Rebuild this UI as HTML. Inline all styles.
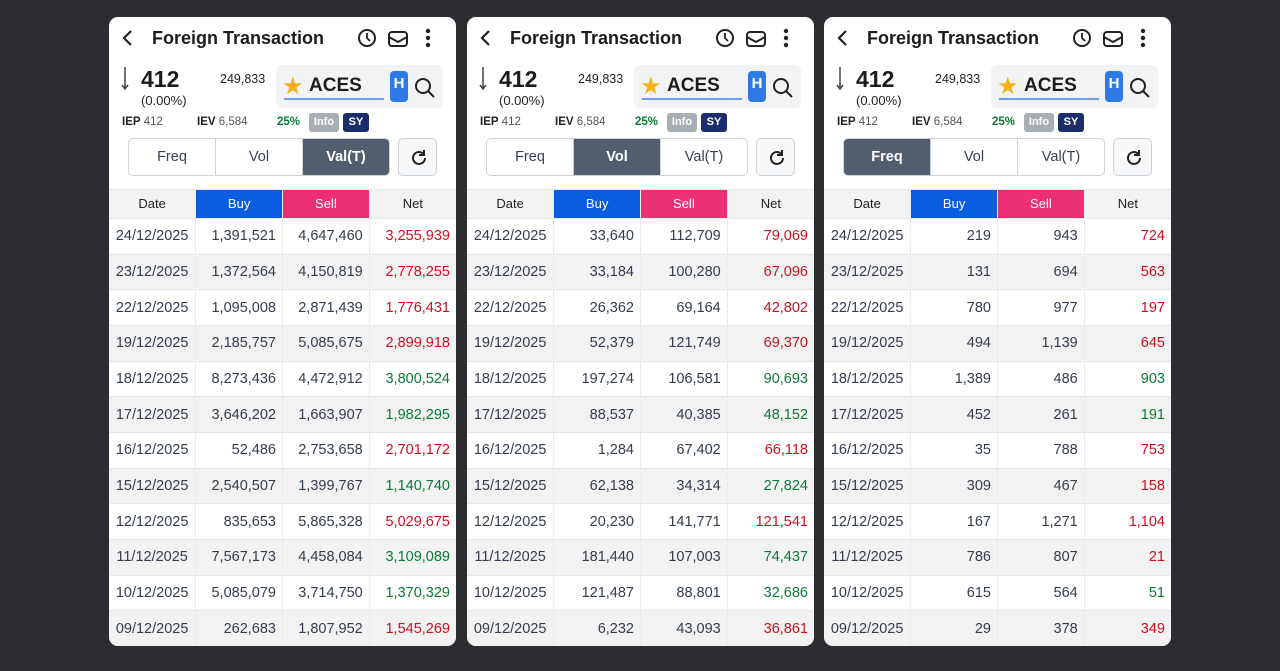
<!DOCTYPE html>
<html><head><meta charset="utf-8">
<style>
*{margin:0;padding:0;box-sizing:border-box}
body{width:1280px;height:671px;background:#2c2d30;position:relative;overflow:hidden;font-family:"Liberation Sans",Arial,sans-serif;color:#222}
.p{position:absolute;top:17px;width:347px;height:629px;background:#fff;border-radius:9px;overflow:hidden}
.a{position:absolute;white-space:nowrap}
.title{left:43px;top:11px;font-size:18px;font-weight:bold;color:#1c1c1c}
.big{left:32px;top:49px;font-size:23px;font-weight:bold;color:#1c1c1c}
.pct{left:32px;top:76px;font-size:13px;color:#222}
.vol{left:111px;top:55px;font-size:12.5px;color:#222}
.sbox{left:167px;top:48px;width:167px;height:43px;background:#f2f3f5;border-radius:6px}
.aces{left:200px;top:58px;font-size:19px;font-weight:bold;color:#1c1c1c}
.ul{left:175px;top:81px;width:100px;height:1.5px;background:#6d9ee8}
.hb{left:281px;top:54px;width:18px;height:31px;background:#2f7ae5;border-radius:4px;color:#fff;font-size:15px;font-weight:bold;text-align:center;line-height:26px}
.iep{top:99px;font-size:11.5px;color:#555}
.iep b{color:#222}
.btn{top:96px;height:19px;border-radius:3px;font-size:11px;color:#fff;text-align:center;line-height:19px;font-weight:bold}
.seg{left:19px;top:121px;width:262px;height:38px;border:1px solid #cfd3d8;border-radius:5px;overflow:hidden;display:flex}
.seg div{flex:1;text-align:center;line-height:36px;font-size:14.5px;color:#374151;border-left:1px solid #cfd3d8}
.seg div:first-child{border-left:none}
.seg .on{background:#525d6d;color:#fff;font-weight:bold}
.ref{left:289px;top:121px;width:39px;height:38px;border:1px solid #cfd3d8;border-radius:5px;background:#f7f8f9}
table{position:absolute;left:0;top:172px;width:347px;border-collapse:collapse;table-layout:fixed}
td,th{font-size:14.5px;line-height:20px;height:35.67px;border-left:1px solid #ebebeb;color:#333d4b;text-align:right;padding:0 6px 0 0;font-weight:normal;vertical-align:middle}
td:first-child,th:first-child{border-left:none;text-align:center;padding-right:0}
th{height:29px;background:#f3f3f3;text-align:center;padding:0;font-size:13px;color:#222}
th.b{background:#0b5de0;color:#fff}th.s{background:#eb3075;color:#fff}
tr:nth-child(odd) td{background:#f2f2f2}
tr{border-top:1px solid #e6e6e6}
.r{color:#cc1020!important}.g{color:#0a7a35!important}
.star{left:173px;top:55px;font-size:24px;color:#f5b01a}
</style></head><body>

<div class="p" style="left:109px">
<svg class="a" style="left:12px;top:12px" width="14" height="18"><path d="M10 2 L3 9 L10 16" stroke="#222" stroke-width="2.2" fill="none"/></svg>
<div class="a title">Foreign Transaction</div>
<svg class="a" style="left:246px;top:10px" width="24" height="22"><circle cx="12" cy="11" r="8" stroke="#222" stroke-width="2" fill="none"/><path d="M12 6v5l3 3" stroke="#222" stroke-width="1.8" fill="none"/></svg>
<svg class="a" style="left:278px;top:11px" width="22" height="20"><rect x="2" y="4" width="18" height="14" rx="3" stroke="#222" stroke-width="2" fill="none"/><path d="M2 9l9 5 9-5" stroke="#222" stroke-width="2" fill="none"/></svg>
<svg class="a" style="left:315px;top:11px" width="8" height="20"><circle cx="4" cy="3" r="2.2" fill="#222"/><circle cx="4" cy="10" r="2.2" fill="#222"/><circle cx="4" cy="17" r="2.2" fill="#222"/></svg>
<svg class="a" style="left:12px;top:50px" width="8" height="24"><path d="M4 0v22M1 18l3 4 3-4" stroke="#444" stroke-width="1.5" fill="none"/></svg>
<div class="a big">412</div><div class="a pct">(0.00%)</div><div class="a vol">249,833</div>
<div class="a sbox"></div>
<div class="a star">★</div>
<div class="a aces">ACES</div><div class="a ul"></div>
<div class="a hb">H</div>
<svg class="a" style="left:305px;top:60px" width="22" height="22"><circle cx="9" cy="9" r="7" stroke="#222" stroke-width="2" fill="none"/><path d="M14 14l6 6" stroke="#222" stroke-width="2"/></svg>
<div class="a iep" style="left:13px"><b>IEP</b> 412</div>
<div class="a iep" style="left:88px"><b>IEV</b> 6,584</div>
<div class="a iep" style="left:168px;color:#0a7a35;font-weight:bold">25%</div>
<div class="a btn" style="left:200px;width:30px;background:#a9aeb4">Info</div>
<div class="a btn" style="left:234px;width:26px;background:#1c2d6b">SY</div>
<div class="a seg"><div>Freq</div><div>Vol</div><div class="on">Val(T)</div></div>
<div class="a ref"><svg style="position:absolute;left:10px;top:9px" width="20" height="20"><path d="M16 10a6 6 0 1 1-2-4.5" stroke="#222" stroke-width="2" fill="none"/><path d="M15 2v5h-5" stroke="#222" stroke-width="2" fill="none"/></svg></div>
<table>
<tr><th>Date</th><th class="b">Buy</th><th class="s">Sell</th><th>Net</th></tr>
<tr><td>24/12/2025</td><td>1,391,521</td><td>4,647,460</td><td class="r">3,255,939</td></tr>
<tr><td>23/12/2025</td><td>1,372,564</td><td>4,150,819</td><td class="r">2,778,255</td></tr>
<tr><td>22/12/2025</td><td>1,095,008</td><td>2,871,439</td><td class="r">1,776,431</td></tr>
<tr><td>19/12/2025</td><td>2,185,757</td><td>5,085,675</td><td class="r">2,899,918</td></tr>
<tr><td>18/12/2025</td><td>8,273,436</td><td>4,472,912</td><td class="g">3,800,524</td></tr>
<tr><td>17/12/2025</td><td>3,646,202</td><td>1,663,907</td><td class="g">1,982,295</td></tr>
<tr><td>16/12/2025</td><td>52,486</td><td>2,753,658</td><td class="r">2,701,172</td></tr>
<tr><td>15/12/2025</td><td>2,540,507</td><td>1,399,767</td><td class="g">1,140,740</td></tr>
<tr><td>12/12/2025</td><td>835,653</td><td>5,865,328</td><td class="r">5,029,675</td></tr>
<tr><td>11/12/2025</td><td>7,567,173</td><td>4,458,084</td><td class="g">3,109,089</td></tr>
<tr><td>10/12/2025</td><td>5,085,079</td><td>3,714,750</td><td class="g">1,370,329</td></tr>
<tr><td>09/12/2025</td><td>262,683</td><td>1,807,952</td><td class="r">1,545,269</td></tr>
</table>
</div>

<div class="p" style="left:467px">
<svg class="a" style="left:12px;top:12px" width="14" height="18"><path d="M10 2 L3 9 L10 16" stroke="#222" stroke-width="2.2" fill="none"/></svg>
<div class="a title">Foreign Transaction</div>
<svg class="a" style="left:246px;top:10px" width="24" height="22"><circle cx="12" cy="11" r="8" stroke="#222" stroke-width="2" fill="none"/><path d="M12 6v5l3 3" stroke="#222" stroke-width="1.8" fill="none"/></svg>
<svg class="a" style="left:278px;top:11px" width="22" height="20"><rect x="2" y="4" width="18" height="14" rx="3" stroke="#222" stroke-width="2" fill="none"/><path d="M2 9l9 5 9-5" stroke="#222" stroke-width="2" fill="none"/></svg>
<svg class="a" style="left:315px;top:11px" width="8" height="20"><circle cx="4" cy="3" r="2.2" fill="#222"/><circle cx="4" cy="10" r="2.2" fill="#222"/><circle cx="4" cy="17" r="2.2" fill="#222"/></svg>
<svg class="a" style="left:12px;top:50px" width="8" height="24"><path d="M4 0v22M1 18l3 4 3-4" stroke="#444" stroke-width="1.5" fill="none"/></svg>
<div class="a big">412</div><div class="a pct">(0.00%)</div><div class="a vol">249,833</div>
<div class="a sbox"></div>
<div class="a star">★</div>
<div class="a aces">ACES</div><div class="a ul"></div>
<div class="a hb">H</div>
<svg class="a" style="left:305px;top:60px" width="22" height="22"><circle cx="9" cy="9" r="7" stroke="#222" stroke-width="2" fill="none"/><path d="M14 14l6 6" stroke="#222" stroke-width="2"/></svg>
<div class="a iep" style="left:13px"><b>IEP</b> 412</div>
<div class="a iep" style="left:88px"><b>IEV</b> 6,584</div>
<div class="a iep" style="left:168px;color:#0a7a35;font-weight:bold">25%</div>
<div class="a btn" style="left:200px;width:30px;background:#a9aeb4">Info</div>
<div class="a btn" style="left:234px;width:26px;background:#1c2d6b">SY</div>
<div class="a seg"><div>Freq</div><div class="on">Vol</div><div>Val(T)</div></div>
<div class="a ref"><svg style="position:absolute;left:10px;top:9px" width="20" height="20"><path d="M16 10a6 6 0 1 1-2-4.5" stroke="#222" stroke-width="2" fill="none"/><path d="M15 2v5h-5" stroke="#222" stroke-width="2" fill="none"/></svg></div>
<table>
<tr><th>Date</th><th class="b">Buy</th><th class="s">Sell</th><th>Net</th></tr>
<tr><td>24/12/2025</td><td>33,640</td><td>112,709</td><td class="r">79,069</td></tr>
<tr><td>23/12/2025</td><td>33,184</td><td>100,280</td><td class="r">67,096</td></tr>
<tr><td>22/12/2025</td><td>26,362</td><td>69,164</td><td class="r">42,802</td></tr>
<tr><td>19/12/2025</td><td>52,379</td><td>121,749</td><td class="r">69,370</td></tr>
<tr><td>18/12/2025</td><td>197,274</td><td>106,581</td><td class="g">90,693</td></tr>
<tr><td>17/12/2025</td><td>88,537</td><td>40,385</td><td class="g">48,152</td></tr>
<tr><td>16/12/2025</td><td>1,284</td><td>67,402</td><td class="r">66,118</td></tr>
<tr><td>15/12/2025</td><td>62,138</td><td>34,314</td><td class="g">27,824</td></tr>
<tr><td>12/12/2025</td><td>20,230</td><td>141,771</td><td class="r">121,541</td></tr>
<tr><td>11/12/2025</td><td>181,440</td><td>107,003</td><td class="g">74,437</td></tr>
<tr><td>10/12/2025</td><td>121,487</td><td>88,801</td><td class="g">32,686</td></tr>
<tr><td>09/12/2025</td><td>6,232</td><td>43,093</td><td class="r">36,861</td></tr>
</table>
</div>

<div class="p" style="left:824px">
<svg class="a" style="left:12px;top:12px" width="14" height="18"><path d="M10 2 L3 9 L10 16" stroke="#222" stroke-width="2.2" fill="none"/></svg>
<div class="a title">Foreign Transaction</div>
<svg class="a" style="left:246px;top:10px" width="24" height="22"><circle cx="12" cy="11" r="8" stroke="#222" stroke-width="2" fill="none"/><path d="M12 6v5l3 3" stroke="#222" stroke-width="1.8" fill="none"/></svg>
<svg class="a" style="left:278px;top:11px" width="22" height="20"><rect x="2" y="4" width="18" height="14" rx="3" stroke="#222" stroke-width="2" fill="none"/><path d="M2 9l9 5 9-5" stroke="#222" stroke-width="2" fill="none"/></svg>
<svg class="a" style="left:315px;top:11px" width="8" height="20"><circle cx="4" cy="3" r="2.2" fill="#222"/><circle cx="4" cy="10" r="2.2" fill="#222"/><circle cx="4" cy="17" r="2.2" fill="#222"/></svg>
<svg class="a" style="left:12px;top:50px" width="8" height="24"><path d="M4 0v22M1 18l3 4 3-4" stroke="#444" stroke-width="1.5" fill="none"/></svg>
<div class="a big">412</div><div class="a pct">(0.00%)</div><div class="a vol">249,833</div>
<div class="a sbox"></div>
<div class="a star">★</div>
<div class="a aces">ACES</div><div class="a ul"></div>
<div class="a hb">H</div>
<svg class="a" style="left:305px;top:60px" width="22" height="22"><circle cx="9" cy="9" r="7" stroke="#222" stroke-width="2" fill="none"/><path d="M14 14l6 6" stroke="#222" stroke-width="2"/></svg>
<div class="a iep" style="left:13px"><b>IEP</b> 412</div>
<div class="a iep" style="left:88px"><b>IEV</b> 6,584</div>
<div class="a iep" style="left:168px;color:#0a7a35;font-weight:bold">25%</div>
<div class="a btn" style="left:200px;width:30px;background:#a9aeb4">Info</div>
<div class="a btn" style="left:234px;width:26px;background:#1c2d6b">SY</div>
<div class="a seg"><div class="on">Freq</div><div>Vol</div><div>Val(T)</div></div>
<div class="a ref"><svg style="position:absolute;left:10px;top:9px" width="20" height="20"><path d="M16 10a6 6 0 1 1-2-4.5" stroke="#222" stroke-width="2" fill="none"/><path d="M15 2v5h-5" stroke="#222" stroke-width="2" fill="none"/></svg></div>
<table>
<tr><th>Date</th><th class="b">Buy</th><th class="s">Sell</th><th>Net</th></tr>
<tr><td>24/12/2025</td><td>219</td><td>943</td><td class="r">724</td></tr>
<tr><td>23/12/2025</td><td>131</td><td>694</td><td class="r">563</td></tr>
<tr><td>22/12/2025</td><td>780</td><td>977</td><td class="r">197</td></tr>
<tr><td>19/12/2025</td><td>494</td><td>1,139</td><td class="r">645</td></tr>
<tr><td>18/12/2025</td><td>1,389</td><td>486</td><td class="g">903</td></tr>
<tr><td>17/12/2025</td><td>452</td><td>261</td><td class="g">191</td></tr>
<tr><td>16/12/2025</td><td>35</td><td>788</td><td class="r">753</td></tr>
<tr><td>15/12/2025</td><td>309</td><td>467</td><td class="r">158</td></tr>
<tr><td>12/12/2025</td><td>167</td><td>1,271</td><td class="r">1,104</td></tr>
<tr><td>11/12/2025</td><td>786</td><td>807</td><td class="r">21</td></tr>
<tr><td>10/12/2025</td><td>615</td><td>564</td><td class="g">51</td></tr>
<tr><td>09/12/2025</td><td>29</td><td>378</td><td class="r">349</td></tr>
</table>
</div>
</body></html>
